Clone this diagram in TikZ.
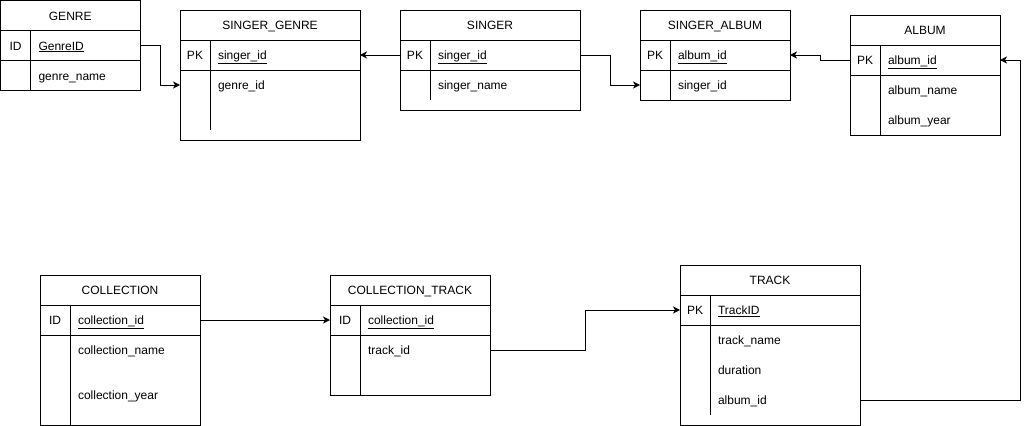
\documentclass[tikz,border=0pt]{standalone}
\usepackage{fontspec}
\setmainfont{Liberation Sans}
\usepackage{tikz}
\usetikzlibrary{arrows.meta}

\begin{document}
\begin{tikzpicture}[x=1pt, y=-1pt, line width=1pt,
  every node/.style={font=\fontsize{12}{14}\selectfont, inner sep=0pt, outer sep=0pt, text height=9pt, text depth=0pt},
  hdr/.style={draw, anchor=north west, minimum height=30pt},
  keyrow/.style={draw, anchor=north, minimum height=30pt},
  bodybox/.style={draw, anchor=north},
  tag/.style={anchor=center},
  field/.style={anchor=west},
  fk/.style={-{Stealth[length=7pt, width=7pt, inset=2pt]}}]
\useasboundingbox (0,0) rectangle (1029,426);

% GENRE
\node[hdr, minimum width=139.5pt] (genre) at (0.5,0.5) {GENRE};
\node[keyrow, minimum width=139.5pt] (genre-key) at (genre.south) {};
\node[bodybox, minimum width=139.5pt, minimum height=30pt] (genre-body) at (genre-key.south) {};
\node[tag] (genre-tag) at ([xshift=15pt]genre-key.west) {ID};
\node[field] (genre-id) at ([xshift=38pt]genre-key.west) {\underline{GenreID}};
\node[field] (genre-name) at ([yshift=-30pt]genre-id.west) {genre\_name};
\draw ([xshift=30pt]genre-key.north west) -- ([xshift=30pt]genre-body.south west);

% SINGER_GENRE
\node[hdr, minimum width=180pt] (sgenre) at (180,10) {SINGER\_GENRE};
\node[keyrow, minimum width=180pt] (sgenre-key) at (sgenre.south) {};
\node[bodybox, minimum width=180pt, minimum height=70pt] (sgenre-body) at (sgenre-key.south) {};
\node[tag] (sgenre-tag) at ([xshift=15pt]sgenre-key.west) {PK};
\node[field] (sgenre-singer) at ([xshift=38pt]sgenre-key.west) {\underline{singer\_id}};
\node[field] (sgenre-genre) at ([yshift=-30pt]sgenre-singer.west) {genre\_id};
\draw ([xshift=30pt]sgenre-key.north west) -- ([xshift=30pt, yshift=10pt]sgenre-body.south west);

% SINGER
\node[hdr, minimum width=180pt] (singer) at (400,10) {SINGER};
\node[keyrow, minimum width=180pt] (singer-key) at (singer.south) {};
\node[bodybox, minimum width=180pt, minimum height=40pt] (singer-body) at (singer-key.south) {};
\node[tag] (singer-tag) at ([xshift=15pt]singer-key.west) {PK};
\node[field] (singer-id) at ([xshift=38pt]singer-key.west) {\underline{singer\_id}};
\node[field] (singer-name) at ([yshift=-30pt]singer-id.west) {singer\_name};
\draw ([xshift=30pt]singer-key.north west) -- ([xshift=30pt, yshift=10pt]singer-body.south west);

% SINGER_ALBUM
\node[hdr, minimum width=150pt] (salbum) at (640,10) {SINGER\_ALBUM};
\node[keyrow, minimum width=150pt] (salbum-key) at (salbum.south) {};
\node[bodybox, minimum width=150pt, minimum height=30pt] (salbum-body) at (salbum-key.south) {};
\node[tag] (salbum-tag) at ([xshift=15pt]salbum-key.west) {PK};
\node[field] (salbum-album) at ([xshift=38pt]salbum-key.west) {\underline{album\_id}};
\node[field] (salbum-singer) at ([yshift=-30pt]salbum-album.west) {singer\_id};
\draw ([xshift=30pt]salbum-key.north west) -- ([xshift=30pt]salbum-body.south west);

% ALBUM
\node[hdr, minimum width=150pt] (album) at (850,15) {ALBUM};
\node[keyrow, minimum width=150pt] (album-key) at (album.south) {};
\node[bodybox, minimum width=150pt, minimum height=60pt] (album-body) at (album-key.south) {};
\node[tag] (album-tag) at ([xshift=15pt]album-key.west) {PK};
\node[field] (album-id) at ([xshift=38pt]album-key.west) {\underline{album\_id}};
\node[field] (album-name) at ([yshift=-30pt]album-id.west) {album\_name};
\node[field] (album-year) at ([yshift=-60pt]album-id.west) {album\_year};
\draw ([xshift=30pt]album-key.north west) -- ([xshift=30pt]album-body.south west);

% COLLECTION
\node[hdr, minimum width=160pt] (coll) at (40,275) {COLLECTION};
\node[keyrow, minimum width=160pt] (coll-key) at (coll.south) {};
\node[bodybox, minimum width=160pt, minimum height=90pt] (coll-body) at (coll-key.south) {};
\node[tag] (coll-tag) at ([xshift=15pt]coll-key.west) {ID};
\node[field] (coll-id) at ([xshift=38pt]coll-key.west) {\underline{collection\_id}};
\node[field] (coll-name) at ([yshift=-30pt]coll-id.west) {collection\_name};
\node[field] (coll-year) at ([yshift=-75pt]coll-id.west) {collection\_year};
\draw ([xshift=30pt]coll-key.north west) -- ([xshift=30pt]coll-body.south west);

% COLLECTION_TRACK
\node[hdr, minimum width=160pt] (ctrack) at (330,275) {COLLECTION\_TRACK};
\node[keyrow, minimum width=160pt] (ctrack-key) at (ctrack.south) {};
\node[bodybox, minimum width=160pt, minimum height=60pt] (ctrack-body) at (ctrack-key.south) {};
\node[tag] (ctrack-tag) at ([xshift=15pt]ctrack-key.west) {ID};
\node[field] (ctrack-coll) at ([xshift=38pt]ctrack-key.west) {\underline{collection\_id}};
\node[field] (ctrack-track) at ([yshift=-30pt]ctrack-coll.west) {track\_id};
\draw ([xshift=30pt]ctrack-key.north west) -- ([xshift=30pt]ctrack-body.south west);

% TRACK
\node[hdr, minimum width=180pt] (track) at (680,265) {TRACK};
\node[keyrow, minimum width=180pt] (track-key) at (track.south) {};
\node[bodybox, minimum width=180pt, minimum height=100pt] (track-body) at (track-key.south) {};
\node[tag] (track-tag) at ([xshift=15pt]track-key.west) {PK};
\node[field] (track-id) at ([xshift=38pt]track-key.west) {\underline{TrackID}};
\node[field] (track-name) at ([yshift=-30pt]track-id.west) {track\_name};
\node[field] (track-dur) at ([yshift=-60pt]track-id.west) {duration};
\node[field] (track-album) at ([yshift=-90pt]track-id.west) {album\_id};
\draw ([xshift=30pt]track-key.north west) -- ([xshift=30pt, yshift=10pt]track-body.south west);

% links
\draw[fk] (genre-key.east) -- ++(20,0) |- (sgenre-genre.west -| sgenre-body.west);
\draw[fk] (singer-key.west) -- (sgenre-key.east);
\draw[fk] (singer-key.east) -- ++(30,0) |- (salbum-singer.west -| salbum-body.west);
\draw[fk] (album-key.west) -- ++(-30,0) |- (salbum-key.east);
\draw[fk] (track-album.west -| track-body.east) -- ++(160,0) |- (album-key.east);
\draw[fk] (coll-key.east) -- (ctrack-key.west);
\draw[fk] (ctrack-track.west -| ctrack-body.east) -- ++(95,0) |- (track-key.west);
\end{tikzpicture}
\end{document}
